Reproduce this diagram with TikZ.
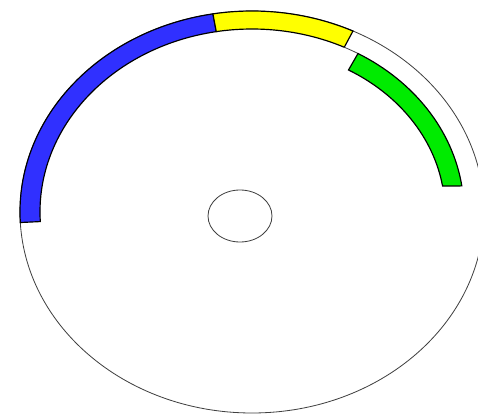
\documentclass[tikz,border=0pt]{standalone}
\definecolor{discblue}{RGB}{48,48,255}
\definecolor{discyellow}{RGB}{255,255,0}
\definecolor{discgreen}{RGB}{0,235,0}
% 椭圆上的点: 参数角, x半径, y半径
\newcommand{\discpt}[3]{({252+#2*cos(#1)},{202+#3*sin(#1)})}
\begin{document}
\begin{tikzpicture}[x=0.03cm, y=0.03cm,
    rim/.style={draw=black!75, line width=0.7pt},
    band/.style={draw=black, line width=1pt}]
    \useasboundingbox (0,0) rectangle (478,414);
    \clip (0,0) rectangle (478,414);

    % 外圈
    \draw[rim] (252,202) ellipse [x radius=232, y radius=201];

    % 蓝色段
    \draw[band, fill=discblue] \discpt{183}{232}{201} arc[start angle=183, end angle=99.7, x radius=232, y radius=201]
        -- \discpt{99.7}{212}{183} arc[start angle=99.7, end angle=183, x radius=212, y radius=183] -- cycle;

    % 黄色段
    \draw[band, fill=discyellow] \discpt{99.7}{232}{201} arc[start angle=99.7, end angle=64.2, x radius=232, y radius=201]
        -- \discpt{64.2}{212}{183} arc[start angle=64.2, end angle=99.7, x radius=212, y radius=183] -- cycle;
    \draw[rim] \discpt{64.2}{212}{183} arc[start angle=64.2, end angle=60, x radius=212, y radius=183];

    % 绿色段
    \draw[band, fill=discgreen] \discpt{60}{212}{183} arc[start angle=60, end angle=8.2, x radius=212, y radius=183]
        -- \discpt{9.1}{193}{164} arc[start angle=9.1, end angle=60, x radius=193, y radius=164] -- cycle;

    % 中心孔
    \draw[rim] (240,198) ellipse [x radius=32, y radius=26];
\end{tikzpicture}
\end{document}
